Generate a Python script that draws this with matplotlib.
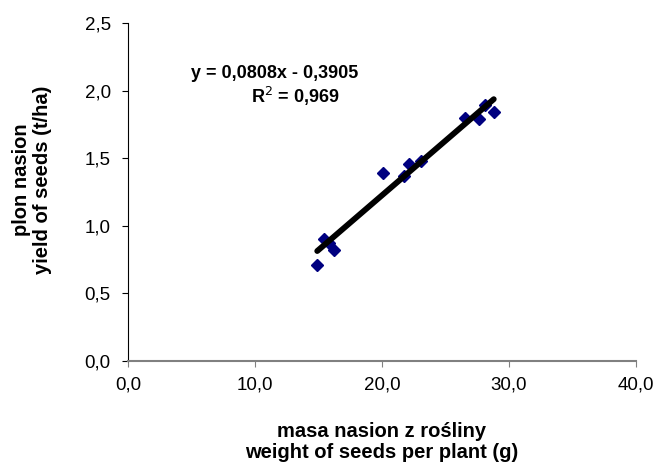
import matplotlib
matplotlib.use("Agg")
import matplotlib.pyplot as plt
import numpy as np

plt.rcParams["font.family"] = ["Liberation Sans", "DejaVu Sans"]

# weight of seeds per plant (g) vs yield of seeds (t/ha)
seed_weight = [14.9, 15.4, 15.8, 16.2, 20.1, 21.7, 22.1, 23.1, 26.5, 27.6, 28.1, 28.8]
seed_yield = [0.71, 0.90, 0.87, 0.82, 1.39, 1.37, 1.46, 1.48, 1.80, 1.79, 1.89, 1.84]
slope = 0.0808
intercept = -0.3905
r2 = 0.969

x_ticks = [0, 10, 20, 30, 40]
y_ticks = [0.0, 0.5, 1.0, 1.5, 2.0, 2.5]


def comma(v, digits=1):
    return f"{v:.{digits}f}".replace(".", ",")


W, H = 659, 467
fig = plt.figure(figsize=(W / 100, H / 100), dpi=100)
ax = fig.add_axes([128 / W, 1 - 361 / H, (636 - 128) / W, (361 - 23) / H])

xs = np.array([min(seed_weight), max(seed_weight)])
ax.plot(xs, slope * xs + intercept, color="black", linewidth=4.2,
        solid_capstyle="round", zorder=3)
ax.plot(seed_weight, seed_yield, linestyle="none", marker="D", markersize=6.5,
        color="#000080", markeredgecolor="#000080", zorder=2)

ax.set_xlim(0, 40)
ax.set_ylim(0, 2.5)
ax.set_xticks(x_ticks)
ax.set_xticklabels([comma(v) for v in x_ticks])
ax.set_yticks(y_ticks)
ax.set_yticklabels([comma(v) for v in y_ticks])
ax.tick_params(axis="both", direction="out", length=4.5, labelsize=13.5)
ax.tick_params(axis="y", pad=8)
ax.tick_params(axis="x", color="#808080", pad=6.5)

for side in ("top", "right"):
    ax.spines[side].set_visible(False)
ax.spines["left"].set_color("black")
ax.spines["bottom"].set_color("#808080")
ax.spines["bottom"].set_linewidth(1.5)

sign = "-" if intercept < 0 else "+"
ax.text(11.55, 2.13, f"y = {comma(slope, 4)}x {sign} {comma(abs(intercept), 4)}",
        ha="center", va="center", fontsize=13, fontweight="bold")
ax.text(13.2, 1.96, f"R$^2$ = {comma(r2, 3)}", ha="center", va="center",
        fontsize=13, fontweight="bold")

fig.text(382 / W, 1 - 442 / H, "masa nasion z rośliny\nweight of seeds per plant (g)",
         ha="center", va="center", fontsize=14.5, fontweight="bold", linespacing=1.1)
fig.text(32 / W, 1 - 180 / H, "plon nasion\nyield of seeds (t/ha)", rotation=90,
         ha="center", va="center", fontsize=14.5, fontweight="bold", linespacing=1.1)

fig.savefig("out.png", dpi=100)
plt.close(fig)
